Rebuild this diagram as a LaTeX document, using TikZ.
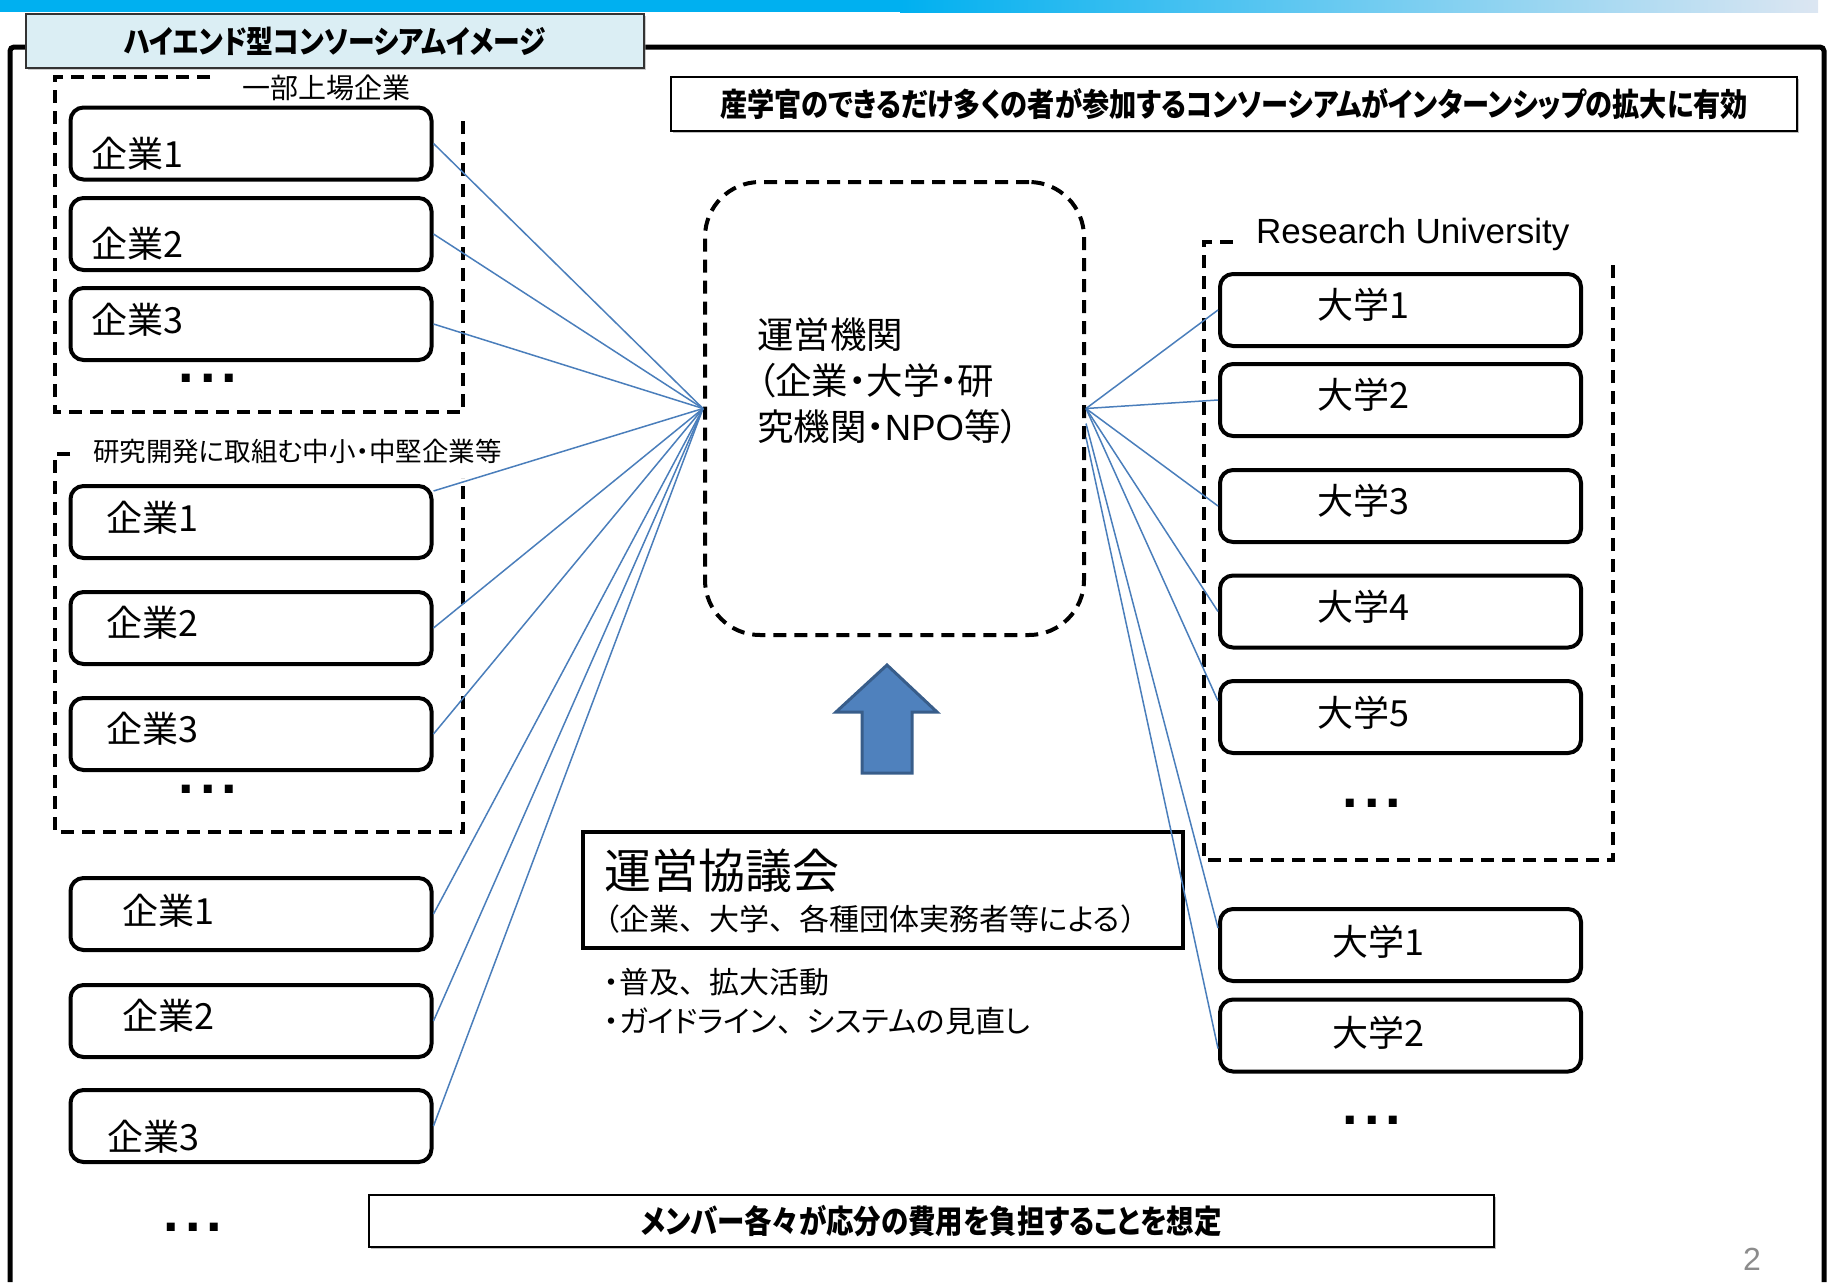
\documentclass[tikz,border=0pt]{standalone}
\usepackage{fontspec}
\setmainfont[RawFeature=+palt]{Noto Sans CJK JP}
\newfontfamily\jpc[RawFeature=+palt,FakeStretch=0.85]{Noto Sans CJK JP}
\newfontfamily\jpf{Noto Sans CJK JP}
\newfontfamily\lsans{Liberation Sans}
\usetikzlibrary{shadows}
\definecolor{connblue}{HTML}{4A7EBB}
\definecolor{arrowfill}{HTML}{4F81BD}
\definecolor{arrowdraw}{HTML}{385D8A}
\definecolor{titlefill}{HTML}{DBEEF4}
\definecolor{barblue}{HTML}{00B0F0}
\definecolor{barlight}{HTML}{DCE6F2}
\definecolor{pagegray}{HTML}{8C8C8C}
\newcommand\fsz[1]{\fontsize{#1pt}{#1pt}\selectfont}
\newcommand\fw[1]{{\jpf #1}}
\newcommand\tdots{{\lsans\bfseries\fsz{56}.\kern6pt.\kern6pt.}}
\tikzset{
  cbox/.style={draw, fill=white, line width=4pt, rounded corners=13pt,
    minimum width=361pt, minimum height=72pt, inner sep=0pt},
  lbl/.style={inner sep=0pt, font=\fsz{36}},
  grp/.style={line width=4pt, dash pattern=on 13pt off 8pt},
  conn/.style={draw=connblue, line width=1.5pt},
  msgbox/.style={draw, line width=1.8pt, fill=white, inner sep=0pt,
    drop shadow={shadow xshift=2pt, shadow yshift=-2pt, fill=black!50}},
  dotsn/.style={inner sep=0pt, anchor=base}
}
\begin{document}
\begin{tikzpicture}[x=1pt,y=-1pt]
\useasboundingbox (0,0) rectangle (1833,1282);
% top bar
\fill[barblue] (0,0) rectangle (900,12);
\shade[left color=barblue, right color=barlight] (900,0) rectangle (1818,12);
% outer frame
\draw[line width=5pt, rounded corners=4pt] (10,1282) -- (10,47) -- (1824,47) -- (1824,1282);
% title
\node[draw=black!80, line width=1.5pt, fill=titlefill, minimum width=618pt, minimum height=54pt,
  inner sep=0pt, drop shadow={shadow xshift=2pt, shadow yshift=-2pt, fill=black!40}]
  (title) at (335,41) {\jpc\bfseries\fsz{31.5}ハイエンド型コンソーシアムイメージ};
% top message
\node[msgbox, minimum width=1126pt, minimum height=54pt] (msg1) at (1234,104)
  {\jpc\bfseries\fsz{32}産学官のできるだけ多くの者が参加するコンソーシアムがインターンシップの拡大に有効};
% bottom message
\node[msgbox, minimum width=1125pt, minimum height=52pt] (msg2) at (931.5,1221)
  {\jpc\bfseries\fsz{32.3}メンバー各々が応分の費用を負担することを想定};
% page number
\node[inner sep=0pt, anchor=base, text=pagegray] (pg) at (1752,1270) {\lsans\fsz{32}2};

% group frames
\draw[grp] (210,77) -- (55,77) -- (55,412) -- (463,412) -- (463,117);
\draw[grp] (70,454) -- (55,454) -- (55,832) -- (463,832) -- (463,478);
\draw[grp] (1233,242) -- (1204,242) -- (1204,860) -- (1613,860) -- (1613,263);
\node[inner sep=0pt, anchor=west, font=\fsz{28}] (g1lab) at (242,88) {一部上場企業};
\node[inner sep=0pt, anchor=west, font=\fsz{26.5}] (g2lab) at (93,451) {研究開発に取組む中小・中堅企業等};
\node[inner sep=0pt, anchor=base west, font=\lsans\fsz{35}] (rulab) at (1256,243) {Research University};

% left boxes
\node[cbox] (g1a) at (251,143.5) {};
\node[cbox] (g1b) at (251,234) {};
\node[cbox] (g1c) at (251,324) {};
\node[cbox] (g2a) at (251,522) {};
\node[cbox] (g2b) at (251,628) {};
\node[cbox] (g2c) at (251,734) {};
\node[cbox] (g3a) at (251,914) {};
\node[cbox] (g3b) at (251,1021) {};
\node[cbox] (g3c) at (251,1126) {};
\node[lbl, anchor=west] (g1at) at (91,154) {企業1};
\node[lbl, anchor=west] (g1bt) at (91,244) {企業2};
\node[lbl, anchor=west] (g1ct) at (91,320) {企業3};
\node[lbl, anchor=west] (g2at) at (106,518) {企業1};
\node[lbl, anchor=west] (g2bt) at (106,623) {企業2};
\node[lbl, anchor=west] (g2ct) at (106,729) {企業3};
\node[lbl, anchor=west] (g3at) at (122,911) {企業1};
\node[lbl, anchor=west] (g3bt) at (122,1016) {企業2};
\node[lbl, anchor=west] (g3ct) at (107,1137) {企業3};
\node[dotsn] (d1) at (208,382) {\tdots};
\node[dotsn] (d2) at (208,793) {\tdots};
\node[dotsn] (d3) at (193,1231) {\tdots};

% right boxes
\node[cbox] (r1) at (1400.5,310) {};
\node[cbox] (r2) at (1400.5,400) {};
\node[cbox] (r3) at (1400.5,506) {};
\node[cbox] (r4) at (1400.5,611.5) {};
\node[cbox] (r5) at (1400.5,717) {};
\node[cbox] (o1) at (1400.5,945) {};
\node[cbox] (o2) at (1400.5,1035.5) {};
\node[lbl, anchor=west] (r1t) at (1317,305) {大学1};
\node[lbl, anchor=west] (r2t) at (1317,395) {大学2};
\node[lbl, anchor=west] (r3t) at (1317,501) {大学3};
\node[lbl, anchor=west] (r4t) at (1317,607) {大学4};
\node[lbl, anchor=west] (r5t) at (1317,713) {大学5};
\node[lbl, anchor=west] (o1t) at (1332,942) {大学1};
\node[lbl, anchor=west] (o2t) at (1332,1033) {大学2};
\node[dotsn] (d4) at (1372,807) {\tdots};
\node[dotsn] (d5) at (1372,1124) {\tdots};

% central organisation
\node[draw, line width=4pt, dash pattern=on 13pt off 8pt, rounded corners=55pt,
  minimum width=379pt, minimum height=453pt, inner sep=0pt] (org) at (894.5,408.5) {};
\node[anchor=west, inner sep=0pt, font=\fsz{36.5}] (orgt1) at (757,335) {運営機関};
\node[anchor=west, inner sep=0pt, font=\fsz{36.5}] (orgt2) at (757,381) {（企業・大学・研};
\node[anchor=west, inner sep=0pt, font=\fsz{36.5}] (orgt3) at (757,427) {究機関・{\lsans NPO}等）};
\coordinate (hubL) at (org.west);
\coordinate (hubR) at (org.east);
\coordinate (hubR2) at ([yshift=-15pt]org.east);
\coordinate (hubR3) at ([yshift=-29pt]org.east);

% block arrow
\draw[fill=arrowfill, draw=arrowdraw, line width=3pt, line join=miter]
  (887,665) -- (937,712) -- (912,712) -- (912,773) -- (862,773) -- (862,712) -- (836,712) -- cycle;

% council
\node[draw, line width=3.5pt, minimum width=600pt, minimum height=116pt, inner sep=0pt] (kyo) at (883,890) {};
\node[inner sep=0pt, anchor=west, font=\fsz{47}] (kyot1) at (604,871) {運営協議会};
\node[inner sep=0pt, anchor=west, font=\fsz{30}] (kyot2) at (604,919)
  {（企業\fw{、}大学\fw{、}各種団体実務者等による\fw{）}};
\node[inner sep=0pt, anchor=west, font=\fsz{30}] (b1) at (604,982) {・普及\fw{、}拡大活動};
\node[inner sep=0pt, anchor=west, font=\fsz{30}] (b2) at (604,1021) {・ガイドライン\fw{、}システムの見直し};

% connectors
\draw[conn] (g1a.east) -- (hubL);
\draw[conn] (g1b.east) -- (hubL);
\draw[conn] (g1c.east) -- (hubL);
\draw[conn] ([yshift=-7pt]g2a.north east) -- (hubL);
\draw[conn] (g2b.east) -- (hubL);
\draw[conn] (g2c.east) -- (hubL);
\draw[conn] (g3a.east) -- (hubL);
\draw[conn] (g3b.east) -- (hubL);
\draw[conn] (g3c.east) -- (hubL);
\draw[conn] (hubR) -- (r1.west);
\draw[conn] (hubR) -- (r2.west);
\draw[conn] (hubR) -- (r3.west);
\draw[conn] (hubR) -- (r4.west);
\draw[conn] (hubR) -- ([yshift=16pt]r5.west);
\draw[conn] (hubR2) -- ([yshift=17pt]o1.west);
\draw[conn] (hubR3) -- ([yshift=-13pt]o2.west);
\end{tikzpicture}
\end{document}
